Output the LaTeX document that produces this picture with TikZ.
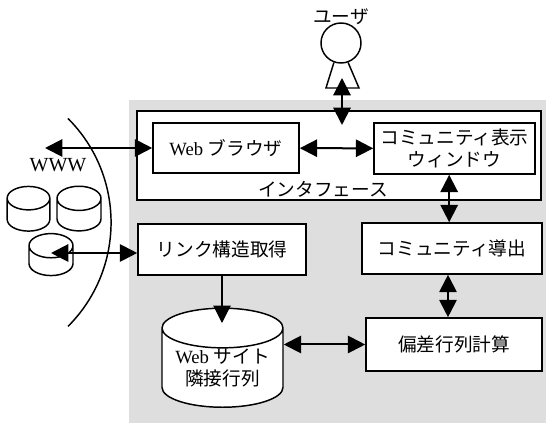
\documentclass[tikz,border=0pt]{standalone}
\usepackage{fontspec}
\setmainfont{Liberation Serif}
\newfontfamily\jp{Noto Sans CJK JP}
\usetikzlibrary{positioning,shapes.geometric,arrows.meta}

\begin{document}
\begin{tikzpicture}[
		x=0.75pt, y=-0.75pt,
		box/.style={
			draw,
			line width=1.2pt,
			fill=white,
			inner sep=0pt,
			align=center,
		},
		db/.style={
			cylinder,
			shape border rotate=90,
			draw,
			line width=1.1pt,
			fill=white,
			inner sep=0pt,
			align=center,
		},
		conn/.style={line width=1.5pt},
		font=\fontsize{14}{17}\selectfont,
		>={Triangle[length=13pt,width=13pt]}
		]
		\useasboundingbox (0,0) rectangle (546,423);
		% Draw the shaded system area
		\fill[black!13] (129,100) rectangle (546,423);
		% Draw the interface and its windows
		\node [box,minimum width=303pt,minimum height=66.75pt] (ifc) at (339,155.5) {};
		\node (ifclabel) at (323,189) {\jp インタフェース};
		\node [box,minimum width=109.5pt,minimum height=37.5pt] (browser) at (226,148) {Web \jp ブラウザ};
		\node [box,minimum width=120.75pt,minimum height=38.25pt] (disp) at (454.5,148.5) {\jp コミュニティ表示\\\jp ウィンドウ};
		% Draw the processing steps
		\node [box,minimum width=126pt,minimum height=38.25pt] (link) at (222,249.5) {\jp リンク構造取得};
		\node [box,minimum width=135pt,minimum height=38.25pt] (deriv) at (452,248.5) {\jp コミュニティ導出};
		\node [box,minimum width=132pt,minimum height=39.75pt] (dev) at (454,344.5) {\jp 偏差行列計算};
		\node [db,aspect=0.42,minimum width=90.75pt,minimum height=66pt] (adj) at (222.5,368) {Web {\jp サイト}\\{\jp 隣接行列}};
		% Draw the user
		\node [circle,draw,line width=1.1pt,minimum size=30pt,inner sep=0pt] (usr) at (341,43) {};
		\node (usrlabel) at (341,17) {\jp ユーザ};
		\draw[line width=1.1pt] (usr.250) -- (326,88) -- (359,88) -- (usr.290);
		% Draw the WWW side
		\draw[line width=1.1pt] (68,118.5) arc[start angle=45,end angle=-45,radius=110.25pt];
		\node [font=\fontsize{15}{18}\selectfont] (www) at (58,165) {WWW};
		\node [db,aspect=0.55,minimum height=33.5pt] (db1) at (28.5,215) {\hspace{32pt}};
		\node [db,aspect=0.55,minimum height=33.5pt] (db2) at (79,215) {\hspace{33pt}};
		\node [db,aspect=0.55,minimum height=31.5pt] (db3) at (51,261) {\hspace{33pt}};
		% Draw the connections
		\coordinate (wwwend) at (45,148);
		\coordinate (ubot) at (342,78);
		\coordinate (utip) at (342,125);
		\coordinate (adjtop) at (222,323);
		\draw[<->,conn] (wwwend) -- (browser.west);
		\draw[<->,conn] (ubot) -- (utip);
		\draw[<->,conn] (browser) -- (disp);
		\draw[<->,conn] ([xshift=-4pt]disp.south) -- ([xshift=-4pt]disp.south |- deriv.north);
		\draw[<->,conn] ([xshift=-3pt]deriv.south) -- ([xshift=-3pt]deriv.south |- dev.north);
		\draw[<->,conn] ([yshift=6pt]db3.center) -- ([yshift=6pt]db3.center -| link.west);
		\draw[->,line width=0.8pt] (link.south) -- (adjtop);
		\draw[<->,conn] (dev.west -| adj.east) -- (dev.west);
	\end{tikzpicture}
\end{document}
